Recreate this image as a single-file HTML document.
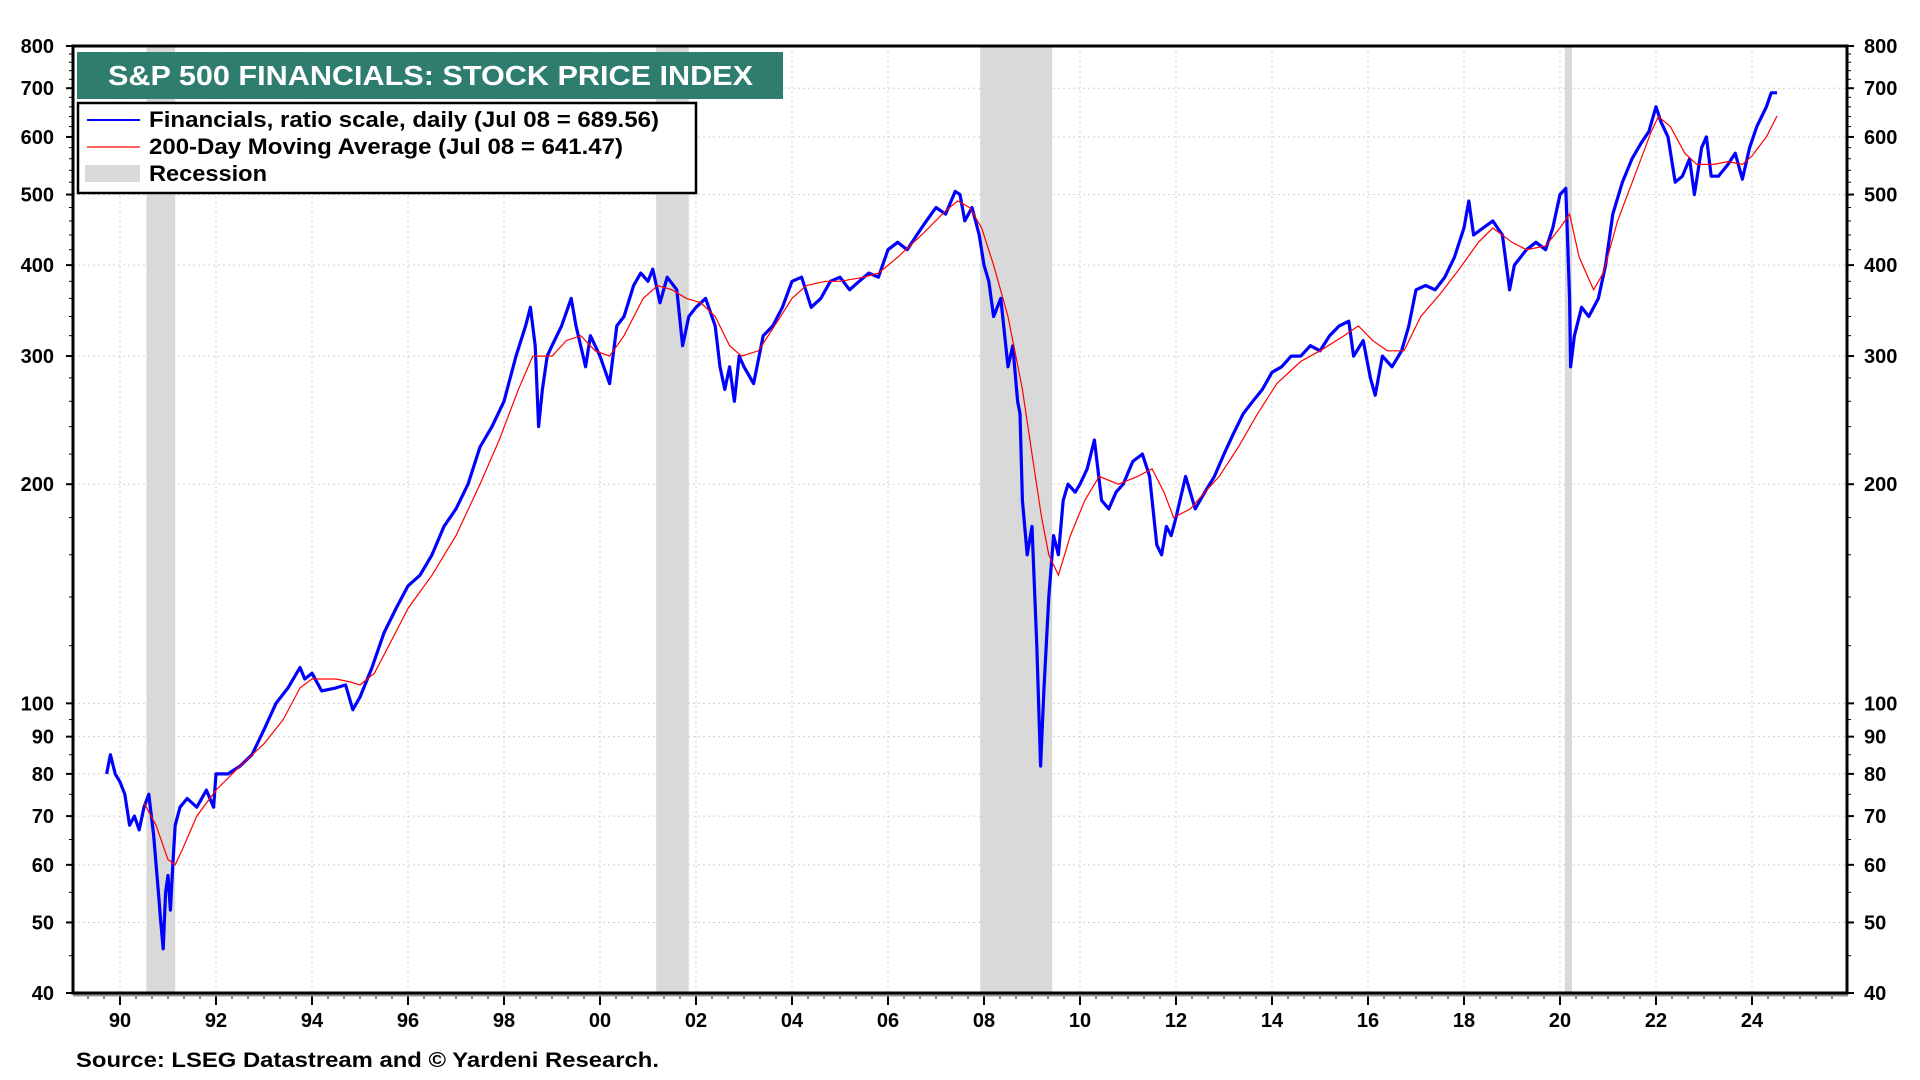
<!DOCTYPE html>
<html><head><meta charset="utf-8"><style>
html,body{margin:0;padding:0;background:#fff;}
svg{display:block;font-family:"Liberation Sans",Arial,sans-serif;font-weight:bold;}
</style></head><body>
<svg id="chart" width="1920" height="1080" viewBox="0 0 1920 1080">
<g id="grid"></g>
<g id="rec"></g>
<g id="series"></g>
<g id="axes"></g>
<rect x="77" y="52" width="706" height="47" fill="#2e7d6f"/>
<text x="108" y="85" fill="#fff" font-size="28" textLength="645" lengthAdjust="spacingAndGlyphs">S&amp;P 500 FINANCIALS: STOCK PRICE INDEX</text>
<g>
<rect x="78" y="103" width="618" height="90" fill="#fff" stroke="#000" stroke-width="2.5"/>
<line x1="87" y1="120" x2="140" y2="120" stroke="#0000ff" stroke-width="2"/>
<text x="149" y="127" font-size="22" textLength="510" lengthAdjust="spacingAndGlyphs">Financials, ratio scale, daily (Jul 08 = 689.56)</text>
<line x1="87" y1="147" x2="140" y2="147" stroke="#ff0000" stroke-width="1.2"/>
<text x="149" y="154" font-size="22" textLength="474" lengthAdjust="spacingAndGlyphs">200-Day Moving Average (Jul 08 = 641.47)</text>
<rect x="85" y="165" width="55" height="17" fill="#d9d9d9"/>
<text x="149" y="181" font-size="22" textLength="118" lengthAdjust="spacingAndGlyphs">Recession</text>
</g>
<text x="76" y="1067" font-size="21" textLength="583" lengthAdjust="spacingAndGlyphs">Source: LSEG Datastream and © Yardeni Research.</text>
</svg>
<script>
const priceYears=[1989.72,1989.8,1989.9,1990.0,1990.1,1990.2,1990.3,1990.4,1990.5,1990.6,1990.7,1990.8,1990.85,1990.9,1990.95,1991.0,1991.05,1991.1,1991.15,1991.25,1991.4,1991.6,1991.8,1991.95,1992.0,1992.25,1992.5,1992.75,1993.0,1993.25,1993.5,1993.75,1993.85,1994.0,1994.2,1994.5,1994.7,1994.85,1995.0,1995.25,1995.5,1995.75,1996.0,1996.25,1996.5,1996.75,1997.0,1997.25,1997.5,1997.75,1998.0,1998.25,1998.45,1998.55,1998.65,1998.72,1998.8,1998.9,1999.0,1999.2,1999.4,1999.5,1999.7,1999.8,2000.0,2000.2,2000.35,2000.5,2000.7,2000.85,2001.0,2001.1,2001.25,2001.4,2001.6,2001.72,2001.85,2002.0,2002.2,2002.4,2002.5,2002.6,2002.7,2002.8,2002.9,2003.0,2003.2,2003.4,2003.6,2003.8,2004.0,2004.2,2004.4,2004.6,2004.8,2005.0,2005.2,2005.4,2005.6,2005.8,2006.0,2006.2,2006.4,2006.6,2006.8,2007.0,2007.2,2007.4,2007.5,2007.6,2007.75,2007.9,2008.0,2008.1,2008.2,2008.35,2008.5,2008.6,2008.7,2008.75,2008.8,2008.9,2009.0,2009.1,2009.18,2009.25,2009.35,2009.45,2009.55,2009.65,2009.75,2009.9,2010.0,2010.15,2010.3,2010.45,2010.6,2010.75,2010.9,2011.1,2011.3,2011.45,2011.6,2011.7,2011.8,2011.9,2012.0,2012.2,2012.4,2012.6,2012.8,2013.0,2013.2,2013.4,2013.6,2013.8,2014.0,2014.2,2014.4,2014.6,2014.8,2015.0,2015.2,2015.4,2015.6,2015.7,2015.9,2016.05,2016.15,2016.3,2016.5,2016.7,2016.85,2017.0,2017.2,2017.4,2017.6,2017.8,2018.0,2018.1,2018.2,2018.4,2018.6,2018.8,2018.95,2019.05,2019.3,2019.5,2019.7,2019.85,2020.0,2020.12,2020.2,2020.22,2020.3,2020.45,2020.6,2020.8,2020.95,2021.1,2021.3,2021.5,2021.7,2021.85,2022.0,2022.1,2022.25,2022.4,2022.55,2022.7,2022.8,2022.95,2023.05,2023.15,2023.3,2023.5,2023.65,2023.8,2023.95,2024.1,2024.3,2024.4,2024.52];
const priceValues=[80,85,80,78,75,68,70,67,72,75,66,55,50,46,55,58,52,60,68,72,74,72,76,72,80,80,82,85,92,100,105,112,108,110,104,105,106,98,102,112,125,135,145,150,160,175,185,200,225,240,260,300,330,350,310,240,270,300,310,330,360,330,290,320,300,275,330,340,375,390,380,395,355,385,370,310,340,350,360,330,290,270,290,260,300,290,275,320,330,350,380,385,350,360,380,385,370,380,390,385,420,430,420,440,460,480,470,505,500,460,480,440,400,380,340,360,290,310,260,250,190,160,175,120,82,105,140,170,160,190,200,195,200,210,230,190,185,195,200,215,220,205,165,160,175,170,180,205,185,195,205,220,235,250,260,270,285,290,300,300,310,305,320,330,335,300,315,280,265,300,290,305,330,370,375,370,385,410,450,490,440,450,460,440,370,400,420,430,420,450,500,510,360,290,320,350,340,360,400,470,520,560,590,610,660,630,600,520,530,560,500,580,600,530,530,550,570,525,580,620,660,690,690];
const maYears=[1990.5,1990.75,1991.0,1991.15,1991.3,1991.6,1992.0,1992.5,1993.0,1993.4,1993.75,1994.0,1994.5,1994.8,1995.0,1995.3,1995.6,1996.0,1996.5,1997.0,1997.5,1997.9,1998.3,1998.6,1998.8,1999.0,1999.3,1999.6,1999.9,2000.2,2000.5,2000.9,2001.2,2001.5,2001.8,2002.1,2002.4,2002.7,2002.95,2003.3,2003.7,2004.0,2004.3,2004.7,2005.0,2005.5,2005.8,2006.2,2006.7,2007.2,2007.45,2007.7,2007.95,2008.2,2008.5,2008.8,2009.0,2009.2,2009.35,2009.55,2009.8,2010.1,2010.4,2010.8,2011.2,2011.5,2011.75,2011.95,2012.3,2012.6,2012.9,2013.3,2013.7,2014.1,2014.6,2015.0,2015.5,2015.8,2016.1,2016.4,2016.75,2017.1,2017.5,2017.9,2018.3,2018.6,2019.0,2019.3,2019.7,2020.0,2020.2,2020.4,2020.7,2020.9,2021.2,2021.6,2021.9,2022.05,2022.3,2022.6,2022.85,2023.2,2023.5,2023.8,2024.0,2024.3,2024.52];
const maValues=[73,68,61,60,63,70,76,82,88,95,105,108,108,107,106,110,120,135,150,170,200,230,270,300,300,300,315,320,305,300,320,360,375,370,360,355,340,310,300,305,335,360,375,380,380,385,390,410,440,475,490,480,450,400,340,270,220,180,160,150,170,190,205,200,205,210,195,180,185,195,205,225,250,275,295,305,320,330,315,305,305,340,365,395,430,450,430,420,425,450,470,410,370,390,460,540,610,640,620,570,550,550,555,550,565,600,641];
const recStarts=[1990.55,2001.17,2007.92,2020.1];
const recEnds=[1991.15,2001.85,2009.42,2020.25];
const yTickValues=[40,50,60,70,80,90,100,200,300,400,500,600,700,800];
const xTickYears=[1990,1992,1994,1996,1998,2000,2002,2004,2006,2008,2010,2012,2014,2016,2018,2020,2022,2024];
const xTickLabels=["90","92","94","96","98","00","02","04","06","08","10","12","14","16","18","20","22","24"];

const L=73,R=1847,T=46,B=993;
const NS="http://www.w3.org/2000/svg";
function xs(yr){return 120+(yr-1990)*48.0;}
function ys(v){return T+(B-T)*Math.log(800/v)/Math.log(20);}
function mk(tag,attrs,parent){const e=document.createElementNS(NS,tag);for(const k in attrs)e.setAttribute(k,attrs[k]);parent.appendChild(e);return e;}
const grid=document.getElementById('grid'),rec=document.getElementById('rec'),series=document.getElementById('series'),axes=document.getElementById('axes');

yTickValues.forEach(v=>{
  const y=ys(v);
  const g=mk('line',{x1:L,x2:R,y1:y,y2:y,stroke:'#d0d0d0','stroke-width':1,'stroke-dasharray':'2,3'},grid);
  
  
  const t1=mk('text',{x:54,y:y+7,'text-anchor':'end','font-size':20},axes);
  t1.textContent=v;
  
  
  const t2=mk('text',{x:1864,y:y+7,'font-size':20},axes);
  t2.textContent=v;
  
  
  mk('line',{x1:L-7,x2:L,y1:y,y2:y,stroke:'#000','stroke-width':2},axes);
  mk('line',{x1:R,x2:R+7,y1:y,y2:y,stroke:'#000','stroke-width':2},axes);
});
[45,55,65,75,85,95,120,140,160,180,220,240,260,280,320,340,360,380,420,440,460,480,520,540,560,580,620,640,660,680,720,740,760,780].forEach(v=>{
  const y=ys(v);
  mk('line',{x1:L-4,x2:L,y1:y,y2:y,stroke:'#000','stroke-width':1},axes);
  mk('line',{x1:R,x2:R+4,y1:y,y2:y,stroke:'#000','stroke-width':1},axes);
});
xTickYears.forEach((yr,i)=>{
  const x=xs(yr);
  const g=mk('line',{x1:x,x2:x,y1:T,y2:B,stroke:'#d0d0d0','stroke-width':1,'stroke-dasharray':'2,3'},grid);
  
  
  mk('line',{x1:x,x2:x,y1:B,y2:B+12,stroke:'#000','stroke-width':2},axes);
  const t=mk('text',{x:x,y:1027,'text-anchor':'middle','font-size':20},axes);
  t.textContent=xTickLabels[i];
  
  
});
for(let yr=1989+1/3;yr<2026;yr+=1/3){const x=xs(yr);if(x>L&&x<R)mk('line',{x1:x,x2:x,y1:B,y2:B+6,stroke:'#000','stroke-width':1},axes);}
recStarts.forEach((s,i)=>{
  const r=mk('rect',{x:xs(s),y:T,width:xs(recEnds[i])-xs(s),height:B-T,fill:'#d9d9d9'},rec);
  
  
});
function path(xsArr,vals){return xsArr.map((yr,i)=>(i?'L':'M')+xs(yr).toFixed(1)+','+ys(vals[i]).toFixed(1)).join('');}
const pr=mk('path',{d:path(priceYears,priceValues),fill:'none',stroke:'#0000ff','stroke-width':3.2,'stroke-linejoin':'round'},series);


const ma=mk('path',{d:path(maYears,maValues),fill:'none',stroke:'#ff0000','stroke-width':1.2},series);


mk('line',{x1:L,x2:R+1,y1:B+2,y2:B+2,stroke:'#999','stroke-width':3},axes);
const fr=mk('rect',{x:L,y:T,width:R-L,height:B-T,fill:'none',stroke:'#000','stroke-width':3},axes);


</script>
</body></html>
